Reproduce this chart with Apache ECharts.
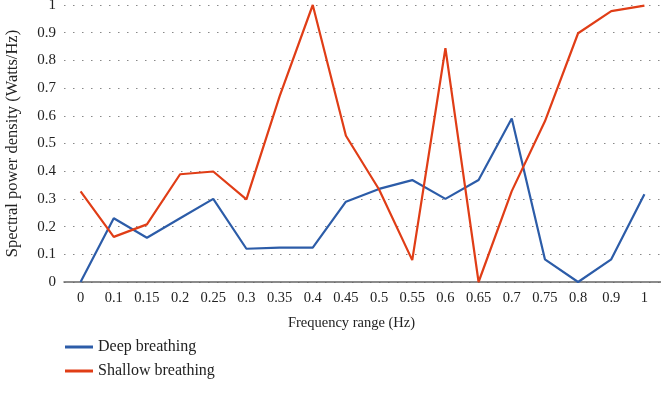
<!DOCTYPE html>
<html>
<head>
<meta charset="utf-8">
<script src="https://cdn.jsdelivr.net/npm/echarts@6/dist/echarts.min.js"></script>
<style>
  html, body { margin: 0; padding: 0; background: #fff; }
  #main { width: 661px; height: 401px; }
</style>
</head>
<body>
<div id="main"></div>
<script>
// frequency bins (Hz) -- note 0.85 is not in the source
var freqs = ['0', '0.1', '0.15', '0.2', '0.25', '0.3', '0.35', '0.4', '0.45', '0.5',
  '0.55', '0.6', '0.65', '0.7', '0.75', '0.8', '0.9', '1'];

var deepBreathing = [0, 0.23, 0.16, 0.23, 0.30, 0.12, 0.124, 0.124, 0.29, 0.336,
  0.368, 0.30, 0.368, 0.59, 0.082, 0, 0.082, 0.317];

var shallowBreathing = [0.327, 0.163, 0.208, 0.389, 0.399, 0.298, 0.67, 1.0, 0.528, 0.334,
  0.079, 0.844, 0, 0.328, 0.58, 0.898, 0.978, 0.998];

var chart = echarts.init(document.getElementById('main'));
var font = 'Liberation Serif';

var option = {
  animation: false,
  textStyle: { fontFamily: font },
  grid: { left: 64, right: 0, top: 5, bottom: 119, containLabel: false, outerBoundsMode: 'none' },
  legend: {
    orient: 'vertical',
    left: 60,
    top: 334,
    itemGap: 8,
    icon: 'rect',
    itemWidth: 28,
    itemHeight: 3,
    textStyle: { fontFamily: font, fontSize: 16, color: '#222' },
    data: ['Deep breathing', 'Shallow breathing']
  },
  xAxis: {
    type: 'category',
    data: freqs,
    boundaryGap: true,
    name: 'Frequency range (Hz)',
    nameLocation: 'middle',
    nameGap: 34,
    // the title sits a little left of the plot centre in the source
    nameTextStyle: { fontFamily: font, fontSize: 14.5, color: '#222', padding: [0, 22, 0, 0] },
    axisLine: { lineStyle: { color: '#666', width: 1.5 } },
    axisTick: { show: false },
    axisLabel: { fontFamily: font, fontSize: 14.5, color: '#222', margin: 9, interval: 0 }
  },
  yAxis: {
    type: 'value',
    min: 0,
    max: 1,
    interval: 0.1,
    name: 'Spectral power density (Watts/Hz)',
    nameLocation: 'middle',
    nameGap: 43,
    nameTextStyle: { fontFamily: font, fontSize: 16.5, color: '#222' },
    axisLine: { show: false },
    axisTick: { show: false },
    axisLabel: { fontFamily: font, fontSize: 15, color: '#222', margin: 8 },
    splitLine: { lineStyle: { color: '#888', type: [1.5, 7.5], width: 1 } }
  },
  series: [
    {
      name: 'Deep breathing',
      type: 'line',
      data: deepBreathing,
      symbol: 'none',
      itemStyle: { color: '#2c5ca8' },
      lineStyle: { color: '#2c5ca8', width: 2.2 }
    },
    {
      name: 'Shallow breathing',
      type: 'line',
      data: shallowBreathing,
      symbol: 'none',
      itemStyle: { color: '#e03d16' },
      lineStyle: { color: '#e03d16', width: 2.2 }
    }
  ]
};

chart.setOption(option);
</script>
</body>
</html>
